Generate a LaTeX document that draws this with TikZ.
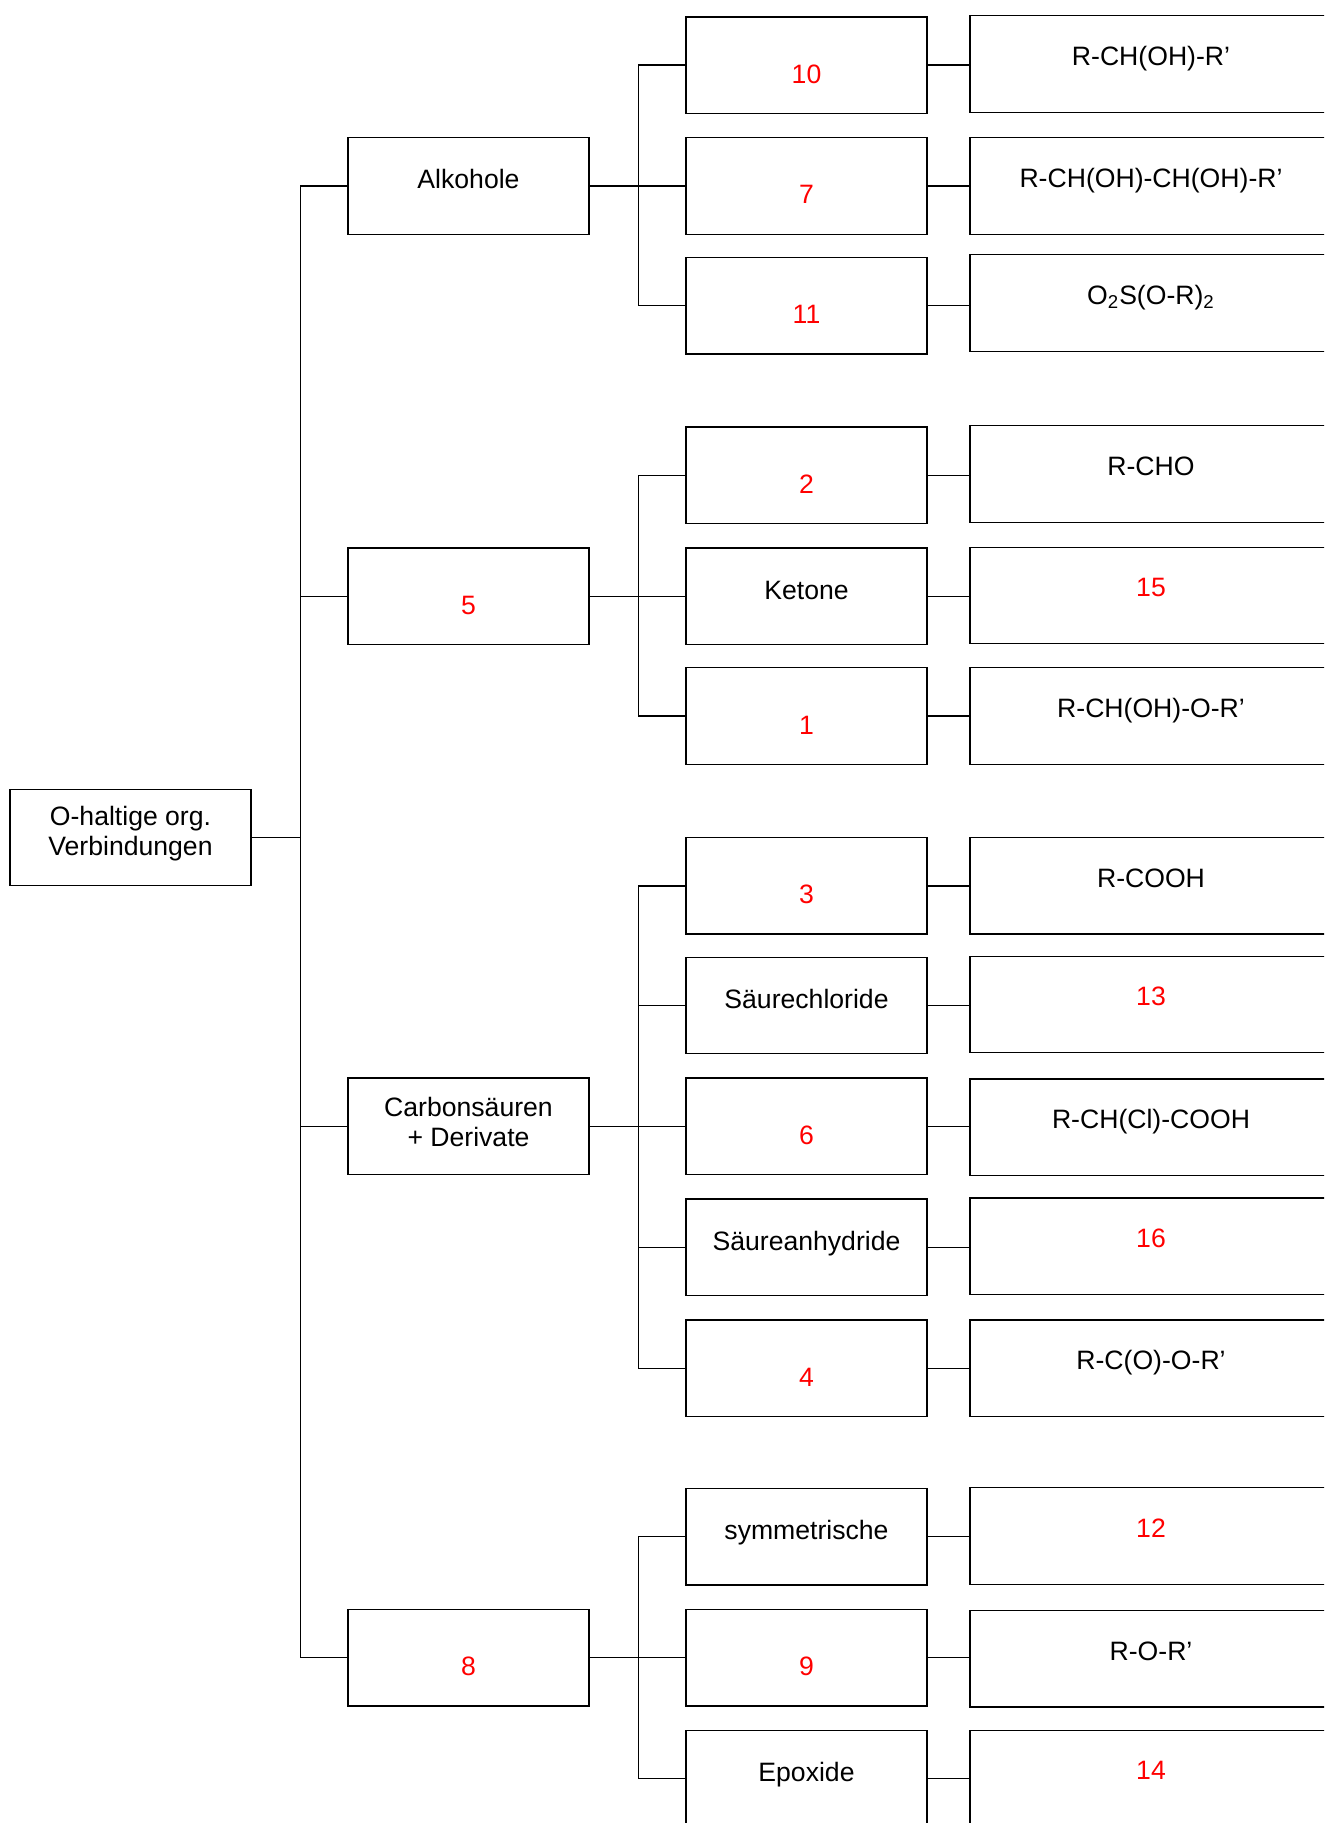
\documentclass[tikz,border=0pt]{standalone}
\usepackage{fontspec}
\setmainfont{Liberation Sans}
\usepackage{tikz}
\tikzset{frame/.style = {draw, line width = 0.7pt, inner sep = 0pt,
                         minimum width = 120.5pt, minimum height = 48.25pt,
                         align = center,
                         font = \fontsize{13.3}{15}\selectfont}}
\tikzset{box/.style = {frame, text height = 1.5ex, text depth = 0.25ex}}
\tikzset{wbox/.style = {box, minimum width = 181pt}}
\tikzset{num/.style = {text = nred}}
\tikzset{link/.style = {line width = 0.7pt}}
\definecolor{nred}{rgb}{1, 0, 0}
\newcommand{\uptext}[1]{\raisebox{1.8pt}{#1}}
\newcommand{\hightext}[1]{\raisebox{2.6pt}{#1}}
\newcommand{\downtext}[1]{\raisebox{-5.7pt}{#1}}
\newcommand{\depthstrut}[1]{\rule[-#1]{0pt}{#1}}

\begin{document}
\begin{tikzpicture}[x = 0.5pt, y = 0.5pt]
      \useasboundingbox (0, 0) rectangle (1324, -1823);
      \clip (0, 0) rectangle (1324, -1823);

      \node [frame] (root) at (130.5, -837.5) {O-haltige org.\\Verbindungen\depthstrut{6.3pt}};

      \node [box] (alk) at (468.5, -186) {\uptext{Alkohole}};
      \node [box, num] (carb) at (468.5, -596.3) {\downtext{5}};
      \node [frame] (acid) at (468.5, -1126.4) {Carbonsäuren\\+ Derivate\depthstrut{4.6pt}};
      \node [box, num] (ether) at (468.5, -1657.6) {\downtext{8}};

      \node [box, num] (sek) at (806.5, -65.1) {\downtext{10}};
      \node [box, num] (diol) at (806.5, -186) {\downtext{7}};
      \node [box, num] (sulf) at (806.5, -305.7) {\downtext{11}};
      \node [box, num] (ald) at (806.5, -475.4) {\downtext{2}};
      \node [box] (ket) at (806.5, -596.3) {\uptext{Ketone}};
      \node [box, num] (hemi) at (806.5, -716) {\downtext{1}};
      \node [box, num] (cooh) at (806.5, -885.8) {\downtext{3}};
      \node [box] (chlor) at (806.5, -1005.5) {\uptext{Säurechloride}};
      \node [box, num] (halo) at (806.5, -1126.4) {\downtext{6}};
      \node [box] (anhyd) at (806.5, -1247.2) {\uptext{Säureanhydride}};
      \node [box, num] (ester) at (806.5, -1368.2) {\downtext{4}};
      \node [box] (sym) at (806.5, -1536.7) {\uptext{symmetrische}};
      \node [box, num] (asym) at (806.5, -1657.6) {\downtext{9}};
      \node [box] (epox) at (806.5, -1778.5) {\uptext{Epoxide}};

      \node [wbox] (sekf) at (1151, -64) {\hightext{R-CH(OH)-R’}};
      \node [wbox] (diolf) at (1151, -186) {\hightext{R-CH(OH)-CH(OH)-R’}};
      \node [wbox] (sulff) at (1151, -303) {\hightext{O\textsubscript{2}S(O-R)\textsubscript{2}}};
      \node [wbox] (aldf) at (1151, -474) {\hightext{R-CHO}};
      \node [wbox, num] (ketf) at (1151, -595.5) {\hightext{15}};
      \node [wbox] (hemif) at (1151, -716) {\hightext{R-CH(OH)-O-R’}};
      \node [wbox] (coohf) at (1151, -885.8) {\hightext{R-COOH}};
      \node [wbox, num] (chlorf) at (1151, -1004.5) {\hightext{13}};
      \node [wbox] (halof) at (1151, -1127.4) {\hightext{R-CH(Cl)-COOH}};
      \node [wbox, num] (anhydf) at (1151, -1246.2) {\hightext{16}};
      \node [wbox] (esterf) at (1151, -1368.2) {\hightext{R-C(O)-O-R’}};
      \node [wbox, num] (symf) at (1151, -1536) {\hightext{12}};
      \node [wbox] (asymf) at (1151, -1658.6) {\hightext{R-O-R’}};
      \node [wbox, num] (epoxf) at (1151, -1778.5) {\hightext{14}};

      \draw [link] (root.east) -- ++(49, 0) |- (alk.west);
      \draw [link] (root.east) -- ++(49, 0) |- (carb.west);
      \draw [link] (root.east) -- ++(49, 0) |- (acid.west);
      \draw [link] (root.east) -- ++(49, 0) |- (ether.west);

      \draw [link] (alk.east) -- ++(48.5, 0) |- (sek.west);
      \draw [link] (alk.east) -- ++(48.5, 0) |- (diol.west);
      \draw [link] (alk.east) -- ++(48.5, 0) |- (sulf.west);
      \draw [link] (carb.east) -- ++(48.5, 0) |- (ald.west);
      \draw [link] (carb.east) -- ++(48.5, 0) |- (ket.west);
      \draw [link] (carb.east) -- ++(48.5, 0) |- (hemi.west);
      \draw [link] (acid.east) -- ++(48.5, 0) |- (cooh.west);
      \draw [link] (acid.east) -- ++(48.5, 0) |- (chlor.west);
      \draw [link] (acid.east) -- ++(48.5, 0) |- (halo.west);
      \draw [link] (acid.east) -- ++(48.5, 0) |- (anhyd.west);
      \draw [link] (acid.east) -- ++(48.5, 0) |- (ester.west);
      \draw [link] (ether.east) -- ++(48.5, 0) |- (sym.west);
      \draw [link] (ether.east) -- ++(48.5, 0) |- (asym.west);
      \draw [link] (ether.east) -- ++(48.5, 0) |- (epox.west);

      \draw [link] (sek.east) -- (sekf.west |- sek.east);
      \draw [link] (diol.east) -- (diolf.west |- diol.east);
      \draw [link] (sulf.east) -- (sulff.west |- sulf.east);
      \draw [link] (ald.east) -- (aldf.west |- ald.east);
      \draw [link] (ket.east) -- (ketf.west |- ket.east);
      \draw [link] (hemi.east) -- (hemif.west |- hemi.east);
      \draw [link] (cooh.east) -- (coohf.west |- cooh.east);
      \draw [link] (chlor.east) -- (chlorf.west |- chlor.east);
      \draw [link] (halo.east) -- (halof.west |- halo.east);
      \draw [link] (anhyd.east) -- (anhydf.west |- anhyd.east);
      \draw [link] (ester.east) -- (esterf.west |- ester.east);
      \draw [link] (sym.east) -- (symf.west |- sym.east);
      \draw [link] (asym.east) -- (asymf.west |- asym.east);
      \draw [link] (epox.east) -- (epoxf.west |- epox.east);
    \end{tikzpicture}
\end{document}
